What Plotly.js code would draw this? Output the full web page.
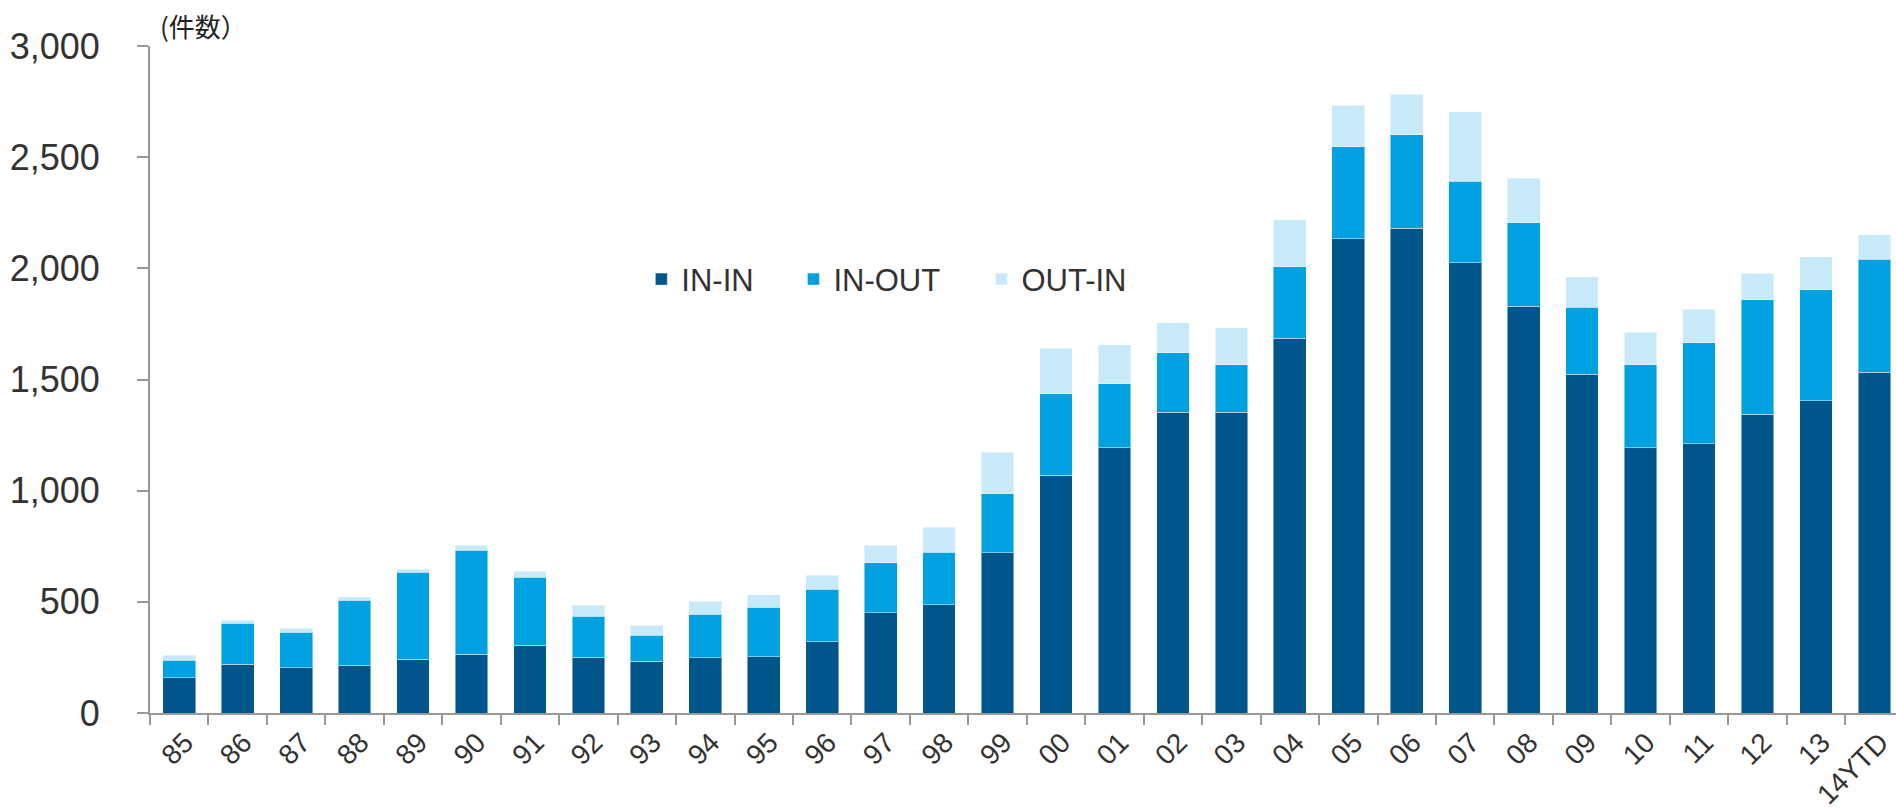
<!DOCTYPE html>
<html>
<head>
<meta charset="utf-8">
<script src="https://cdn.plot.ly/plotly-3.0.1.min.js"></script>
<style>html,body{margin:0;padding:0;background:#fff;}#chart{width:1896px;height:810px;}</style>
</head>
<body>
<div id="chart"></div>
<script>
const categories = ['85','86','87','88','89','90','91','92','93','94','95','96','97','98','99',
  '00','01','02','03','04','05','06','07','08','09','10','11','12','13','14YTD'];
const inIn  = [158,220,204,215,242,265,305,251,233,248,253,321,451,487,721,
  1069,1194,1353,1353,1685,2134,2180,2026,1829,1523,1194,1210,1343,1404,1532];
const inOut = [80,183,159,293,392,466,305,185,117,197,223,236,225,237,266,
  367,287,267,214,322,413,420,366,377,301,373,456,516,499,509];
const outIn = [21,14,18,15,12,24,28,48,45,58,56,63,78,111,185,
  205,175,135,165,212,186,182,313,199,139,145,149,118,150,109];
const yTicks = [0,500,1000,1500,2000,2500,3000];
const yTickText = ['0','500','1,000','1,500','2,000','2,500','3,000'];

const font = 'Liberation Sans, Arial, Helvetica, sans-serif';
const edge = {color:'rgba(255,255,255,0.45)', width:1};
const traces = [
  {type:'bar', name:'IN-IN', x:categories, y:inIn, marker:{color:'#00568B', line:edge}, legend:'legend'},
  {type:'bar', name:'IN-OUT', x:categories, y:inOut, marker:{color:'#00A1E0', line:edge}, legend:'legend2'},
  {type:'bar', name:'OUT-IN', x:categories, y:outIn, marker:{color:'#C7E9F8', line:edge}, legend:'legend3'}
];
function legendAt(x){
  return {orientation:'h', x:x, xanchor:'left', y:0.65, yanchor:'middle',
    font:{size:31, color:'#333', family:font}, bgcolor:'rgba(0,0,0,0)'};
}
const layout = {
  width:1896, height:810,
  margin:{l:150, r:0, t:46, b:96.5},
  paper_bgcolor:'#fff', plot_bgcolor:'#fff',
  barmode:'stack', bargap:0.44,
  font:{family:font, color:'#333'},
  showlegend:true,
  legend:legendAt(0.2814),
  legend2:legendAt(0.3685),
  legend3:legendAt(0.4762),
  xaxis:{type:'category', range:[-0.5, 29.37], tickangle:-45, tickson:'boundaries',
    ticks:'outside', ticklen:10, tickwidth:2, tickcolor:'#999',
    showline:true, linecolor:'#999', linewidth:2, showgrid:false, zeroline:false,
    ticklabelstandoff:0, ticklabelshift:6,
    tickfont:{size:28, color:'#333', family:font}, fixedrange:true},
  yaxis:{range:[0,3000], tickvals:yTicks, ticktext:yTickText,
    ticks:'outside', ticklen:11, tickwidth:2, tickcolor:'#999',
    showline:true, linecolor:'#999', linewidth:2, showgrid:false, zeroline:false,
    ticklabelstandoff:30,
    tickfont:{size:36, color:'#333', family:font}, fixedrange:true},
  annotations:[{text:'(件数）', xref:'paper', yref:'paper', x:0.0046, y:1.031,
    xanchor:'left', yanchor:'middle', showarrow:false,
    font:{size:26, color:'#222', family:'Noto Sans CJK JP, sans-serif'}}]
};
Plotly.newPlot('chart', traces, layout, {displayModeBar:false, staticPlot:true});
</script>
</body>
</html>
